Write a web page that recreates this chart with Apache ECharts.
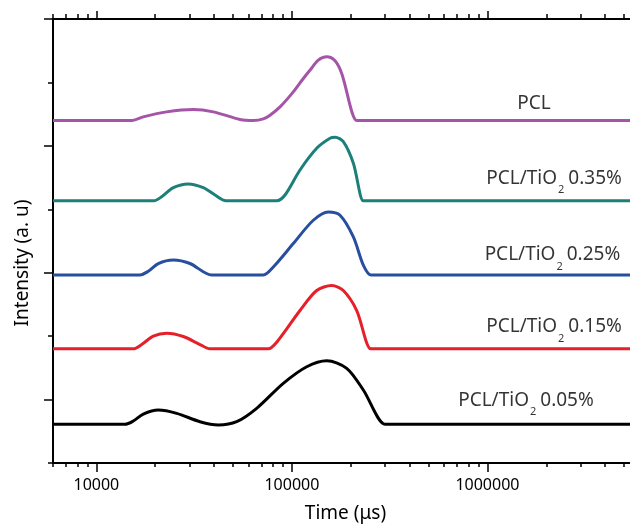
<!DOCTYPE html>
<html>
<head>
<meta charset="utf-8">
<script src="https://cdn.jsdelivr.net/npm/echarts@6.0.0/dist/echarts.min.js"></script>
<style>
html,body{margin:0;padding:0;background:#fff;}
#chart{width:630px;height:527px;}
</style>
</head>
<body>
<div id="chart"></div>
<script>
// ---------- DATA ----------
const X_MIN = 6000;
const X_MAX = 5360000;
const majorTicks = [10000, 100000, 1000000];
const minorTicks = [6000, 7000, 8000, 9000,
  20000, 30000, 40000, 50000, 60000, 70000, 80000, 90000,
  200000, 300000, 400000, 500000, 600000, 700000, 800000, 900000,
  2000000, 3000000, 4000000, 5000000];
const yLongTicks = [1, 3, 5, 7];
const yShortTicks = [0, 2, 4, 6];

const seriesNames = ['PCL', 'PCL/TiO2 0.35%', 'PCL/TiO2 0.25%', 'PCL/TiO2 0.15%', 'PCL/TiO2 0.05%'];
const seriesOffsets = [5.40, 4.135, 2.965, 1.80, 0.61];

const pclTime = [6000, 15260, 17380, 22880, 31310, 39630, 54270, 63460, 71400, 77270, 86950, 101670, 114390, 123760, 136450, 150650, 166160, 179760, 214550, 222000, 5360000];
const pclIntensity = [0, 0, 0.057, 0.136, 0.173, 0.136, 0.016, 0, 0.025, 0.084, 0.214, 0.451, 0.662, 0.793, 0.951, 1.003, 0.940, 0.741, 0, 0, 0];

const tio035Time = [6000, 19710, 21580, 24740, 29520, 35230, 40430, 46010, 83620, 92190, 110000, 133920, 156630, 166160, 183220, 206200, 231860, 240000, 5360000];
const tio035Intensity = [0, 0, 0.063, 0.205, 0.263, 0.205, 0.090, 0, 0, 0.090, 0.484, 0.826, 0.984, 1.0, 0.930, 0.590, 0, 0, 0];

const tio025Time = [6000, 16710, 18430, 20730, 24740, 30120, 38890, 71400, 80340, 101670, 128670, 153520, 176200, 206200, 231860, 253050, 262000, 5360000];
const tio025Intensity = [0, 0, 0.058, 0.180, 0.236, 0.180, 0, 0, 0.126, 0.495, 0.862, 0.993, 0.941, 0.599, 0.153, 0, 0, 0];

const tio015Time = [6000, 15440, 17050, 19540, 22880, 27830, 33880, 38120, 75730, 83620, 110000, 133920, 159800, 183220, 214550, 253050, 262000, 5360000];
const tio015Intensity = [0, 0, 0.068, 0.199, 0.246, 0.194, 0.068, 0, 0, 0.104, 0.604, 0.919, 0.998, 0.919, 0.604, 0, 0, 0];

const tio005Time = [6000, 14010, 15440, 17380, 20730, 25740, 33880, 42030, 52200, 66040, 90360, 119050, 150650, 190700, 231860, 299460, 310000, 5360000];
const tio005Intensity = [0, 0, 0.052, 0.162, 0.225, 0.173, 0.041, -0.01, 0.041, 0.252, 0.646, 0.908, 1.003, 0.883, 0.541, 0, 0, 0];

const allTimes = [pclTime, tio035Time, tio025Time, tio015Time, tio005Time];
const allIntensities = [pclIntensity, tio035Intensity, tio025Intensity, tio015Intensity, tio005Intensity];

// ---------- STYLE / LAYOUT ----------
const colors = ['#A555A8', '#1C7F79', '#284EA0', '#E5202A', '#000000'];
const FONT = 'Noto Sans';
const labelAnchors = [[1731000, 5.67], [2190000, 4.49], [2150000, 3.28], [2190000, 2.145], [1574000, 0.98]];

function labelText(name) {
  const m = name.match(/^PCL\/TiO2 (.*)$/);
  if (!m) return '{m|' + name + '}';
  return '{m|PCL/TiO}{s|2}{m|' + m[1] + '}';
}

const lineSeries = seriesNames.map((name, i) => ({
  name: name,
  type: 'line',
  xAxisIndex: 0,
  yAxisIndex: 0,
  showSymbol: false,
  smooth: 0.3,
  lineStyle: { color: colors[i], width: 3 },
  itemStyle: { color: colors[i] },
  data: allTimes[i].map((t, k) => [t, seriesOffsets[i] + allIntensities[i][k]]),
  z: 3
}));

const labelSeries = {
  type: 'scatter',
  xAxisIndex: 0,
  yAxisIndex: 0,
  symbolSize: 1,
  itemStyle: { color: 'rgba(0,0,0,0)' },
  silent: true,
  data: seriesNames.map((n, i) => ({ name: n, value: labelAnchors[i] })),
  label: {
    show: true,
    position: 'inside',
    formatter: p => labelText(p.name),
    rich: {
      m: { fontSize: 19, lineHeight: 34, fontFamily: FONT, color: '#000' },
      s: { fontSize: 11, lineHeight: 11, verticalAlign: 'bottom', fontFamily: FONT, color: '#000', padding: [0, 4, 0, 1] }
    }
  },
  z: 5
};

const axisLineStyle = { color: '#000', width: 2 };
function xAx(pos, ticks, len, withLabels, withLine) {
  const ax = {
    type: 'log', logBase: 10, gridIndex: 0, position: pos,
    min: X_MIN, max: X_MAX,
    axisLine: { show: withLine, onZero: false, lineStyle: axisLineStyle },
    axisTick: { show: true, inside: false, length: len, customValues: ticks, lineStyle: { color: '#000', width: 1.5 } },
    axisLabel: { show: false },
    splitLine: { show: false },
    minorTick: { show: false }
  };
  if (withLabels) {
    ax.axisLabel = {
      show: true, customValues: majorTicks, margin: 14,
      fontSize: 16, fontFamily: FONT, color: '#000',
      formatter: v => String(Math.round(v))
    };
    ax.name = 'Time (μs)';
    ax.nameLocation = 'middle';
    ax.nameGap = 41;
    ax.nameTextStyle = { fontSize: 19, fontFamily: FONT, color: '#000', padding: [0, 0, 0, 8] };
  }
  return ax;
}

const option = {
  animation: false,
  backgroundColor: '#fff',
  grid: { left: 53, right: 0, top: 19, bottom: 64, containLabel: false, outerBoundsMode: 'none' },
  xAxis: [
    xAx('bottom', majorTicks, 9, true, true),
    xAx('bottom', minorTicks, 4, false, false),
    xAx('top', majorTicks, 8, false, true),
    xAx('top', minorTicks, 5, false, false)
  ],
  yAxis: [
    {
      type: 'value', min: 0, max: 7, interval: 1, position: 'left',
      axisLine: { show: true, onZero: false, lineStyle: axisLineStyle },
      axisTick: { show: true, length: 5, customValues: yShortTicks, lineStyle: { color: '#000', width: 1.5 } },
      axisLabel: { show: false },
      splitLine: { show: false },
      name: 'Intensity (a. u)',
      nameLocation: 'middle',
      nameGap: 21,
      nameTextStyle: { fontSize: 19, fontFamily: FONT, color: '#000', padding: [0, 44, 0, 0] }
    },
    {
      type: 'value', min: 0, max: 7, interval: 1, position: 'left',
      axisLine: { show: false, onZero: false },
      axisTick: { show: true, length: 9, customValues: yLongTicks, lineStyle: { color: '#000', width: 1.5 } },
      axisLabel: { show: false },
      splitLine: { show: false }
    }
  ],
  series: lineSeries.concat([labelSeries])
};

const chart = echarts.init(document.getElementById('chart'), null, { renderer: 'canvas' });
chart.setOption(option);
</script>
</body>
</html>
